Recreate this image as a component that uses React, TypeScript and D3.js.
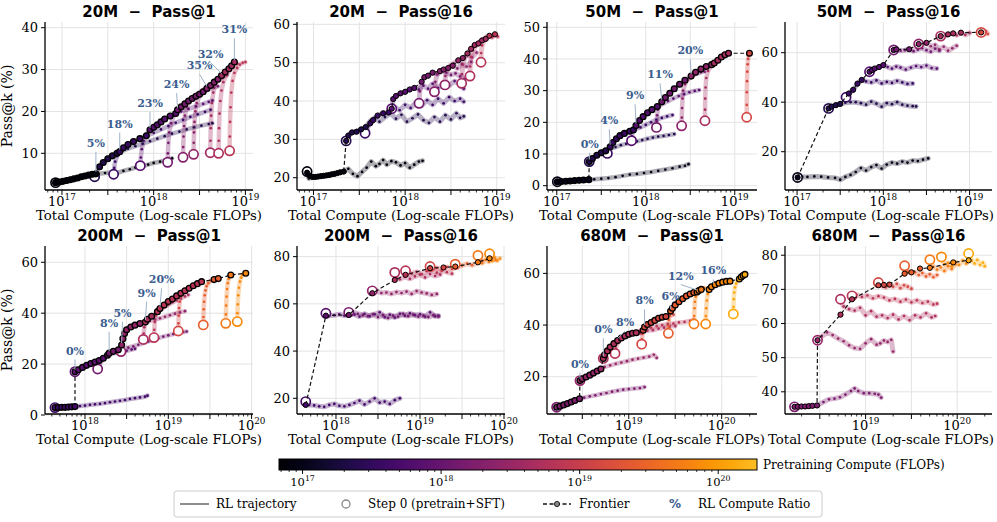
import * as d3 from "d3";

type Pt = [number, number];
type Run = { pre: number; pts: Pt[] };
type FPt = [number, number, number];
type Ratio = { x: number; y: number; tx: number; ty: number; label: string };

// x values are log10(total FLOPs); pts[0] of a run is step 0 (pretrain+SFT)

// ---------- 20M, Pass@1 ----------
const runs20M1: Run[] = [
  { pre: 16.93, pts: [[16.93, 3.0], [16.98, 3.2], [17.04, 3.5], [17.1, 3.8], [17.16, 4.1], [17.22, 4.5], [17.28, 4.8], [17.34, 5.0], [17.4, 5.1], [17.47, 5.3], [17.54, 5.4], [17.6, 5.3], [17.67, 5.8], [17.74, 6.2], [17.8, 6.6], [17.87, 6.9], [17.94, 7.3], [18.0, 7.7], [18.07, 8.0], [18.14, 8.4], [18.2, 8.8]] },
  { pre: 17.356, pts: [[17.356, 4.4], [17.38, 5.6], [17.41, 6.8], [17.45, 7.8], [17.5, 8.7], [17.55, 9.4], [17.6, 10.0], [17.66, 10.6], [17.72, 11.1], [17.8, 11.7], [17.88, 12.3], [17.96, 12.9], [18.04, 13.5], [18.12, 14.1], [18.2, 14.7], [18.28, 15.2], [18.36, 15.7], [18.44, 16.2], [18.52, 16.6], [18.6, 17.0], [18.64, 17.2]] },
  { pre: 17.563, pts: [[17.563, 5.0], [17.57, 6.5], [17.58, 8.0], [17.6, 9.3], [17.63, 10.4], [17.67, 11.3], [17.72, 12.1], [17.78, 12.8], [17.85, 13.5], [17.92, 14.2], [18.0, 14.9], [18.08, 15.7], [18.16, 16.5], [18.24, 17.3], [18.32, 18.0], [18.4, 18.7], [18.48, 19.3], [18.56, 19.9], [18.62, 20.4]] },
  { pre: 17.854, pts: [[17.854, 7.05], [17.86, 9.0], [17.87, 11.0], [17.89, 13.0], [17.92, 14.6], [17.96, 15.6], [18.0, 16.2], [18.04, 16.8], [18.08, 17.5], [18.12, 18.2], [18.18, 18.9], [18.24, 19.5], [18.3, 20.0], [18.38, 20.6], [18.46, 21.2], [18.54, 21.8], [18.6, 22.3], [18.64, 22.6]] },
  { pre: 18.152, pts: [[18.152, 7.85], [18.155, 10.0], [18.16, 12.5], [18.17, 15.0], [18.19, 17.2], [18.22, 19.0], [18.26, 20.4], [18.3, 21.1], [18.34, 21.8], [18.38, 22.5], [18.42, 23.1], [18.46, 23.6], [18.5, 24.1], [18.54, 24.7], [18.6, 25.2], [18.66, 25.7], [18.7, 26.0]] },
  { pre: 18.32, pts: [[18.32, 9.05], [18.322, 11.5], [18.326, 14.0], [18.332, 16.5], [18.34, 19.0], [18.36, 21.0], [18.39, 22.4], [18.43, 23.4], [18.48, 24.3], [18.54, 25.2], [18.58, 25.5], [18.62, 26.2], [18.66, 27.0], [18.7, 27.7], [18.74, 28.1]] },
  { pre: 18.435, pts: [[18.435, 9.77], [18.437, 12.5], [18.44, 15.0], [18.445, 17.5], [18.455, 20.0], [18.47, 22.0], [18.5, 23.6], [18.54, 24.6], [18.59, 25.6], [18.64, 26.5], [18.7, 27.4], [18.76, 28.2], [18.8, 28.7]] },
  { pre: 18.617, pts: [[18.617, 10.15], [18.619, 13.0], [18.622, 16.0], [18.627, 19.0], [18.635, 22.0], [18.65, 24.5], [18.67, 26.3], [18.7, 27.5], [18.74, 28.6], [18.78, 29.4], [18.82, 30.2], [18.85, 30.9], [18.88, 31.8]] },
  { pre: 18.708, pts: [[18.708, 10.0], [18.71, 13.0], [18.713, 16.0], [18.718, 19.5], [18.727, 22.5], [18.74, 25.0], [18.76, 27.0], [18.79, 28.6], [18.83, 29.8], [18.87, 30.8], [18.91, 31.4]] },
  { pre: 18.828, pts: [[18.828, 10.6], [18.83, 14.0], [18.833, 17.5], [18.838, 21.0], [18.846, 24.5], [18.86, 27.3], [18.88, 29.2], [18.91, 30.4], [18.94, 31.2], [18.97, 31.6], [19.0, 31.8]] },
];
const frontier20M1: FPt[] = [
  [16.93, 3.0, 16.93], [16.97, 3.15, 16.93], [17.01, 3.3, 16.93], [17.05, 3.5, 16.93], [17.09, 3.7, 16.93], [17.13, 3.9, 16.93], [17.17, 4.1, 16.93], [17.21, 4.4, 16.93], [17.25, 4.6, 16.93], [17.29, 4.8, 16.93], [17.33, 5.0, 16.93], [17.37, 5.1, 16.93],
  [17.41, 6.8, 17.356], [17.45, 7.8, 17.356], [17.5, 8.7, 17.356], [17.55, 9.4, 17.356], [17.6, 10.0, 17.356],
  [17.63, 10.4, 17.563], [17.67, 11.3, 17.563], [17.72, 12.1, 17.563], [17.78, 12.8, 17.563], [17.85, 13.5, 17.563], [17.92, 14.2, 17.563],
  [17.96, 15.6, 17.854], [18.0, 16.2, 17.854], [18.04, 16.8, 17.854], [18.08, 17.5, 17.854], [18.12, 18.2, 17.854], [18.18, 18.9, 17.854], [18.24, 19.5, 17.854],
  [18.26, 20.4, 18.152], [18.3, 21.1, 18.152], [18.34, 21.8, 18.152], [18.38, 22.5, 18.152], [18.42, 23.1, 18.152], [18.46, 23.6, 18.152], [18.5, 24.1, 18.152], [18.54, 24.7, 18.152],
  [18.58, 25.5, 18.32], [18.62, 26.2, 18.32], [18.66, 27.0, 18.32], [18.7, 27.7, 18.32],
  [18.74, 28.6, 18.617], [18.78, 29.4, 18.617], [18.82, 30.2, 18.617], [18.85, 30.9, 18.617], [18.88, 31.8, 18.617],
];
const ratios20M1: Ratio[] = [
  { x: 17.37, y: 5.1, tx: 17.37, ty: 11.8, label: "5%" },
  { x: 17.63, y: 10.4, tx: 17.63, ty: 16.4, label: "18%" },
  { x: 17.96, y: 15.6, tx: 17.96, ty: 21.3, label: "23%" },
  { x: 18.26, y: 20.4, tx: 18.25, ty: 25.8, label: "24%" },
  { x: 18.58, y: 25.5, tx: 18.5, ty: 30.3, label: "35%" },
  { x: 18.74, y: 28.6, tx: 18.62, ty: 33.1, label: "32%" },
  { x: 18.88, y: 31.8, tx: 18.88, ty: 38.9, label: "31%" },
];

// ---------- 20M, Pass@16 ----------
const runs20M16: Run[] = [
  { pre: 16.93, pts: [[16.93, 21.6], [16.95, 19.8], [16.98, 20.0], [17.02, 20.2], [17.06, 20.3], [17.1, 20.4], [17.14, 20.5], [17.18, 20.7], [17.22, 20.9], [17.26, 21.2], [17.3, 21.4], [17.34, 21.7], [17.38, 22.3], [17.43, 21.0], [17.48, 20.4], [17.53, 21.5], [17.58, 22.6], [17.63, 24.2], [17.68, 23.0], [17.72, 23.6], [17.76, 24.6], [17.8, 23.4], [17.85, 24.3], [17.9, 24.0], [17.95, 23.2], [18.0, 23.8], [18.05, 22.6], [18.1, 23.4], [18.15, 24.2], [18.19, 24.4]] },
  { pre: 17.356, pts: [[17.356, 29.6], [17.38, 31.0], [17.42, 31.8], [17.47, 32.0], [17.52, 32.6], [17.57, 33.2], [17.62, 34.8], [17.67, 35.6], [17.72, 34.6], [17.78, 35.8], [17.84, 36.8], [17.9, 35.4], [17.96, 36.4], [18.02, 34.6], [18.08, 35.5], [18.14, 36.5], [18.2, 35.0], [18.26, 34.3], [18.32, 35.8], [18.38, 34.6], [18.44, 36.3], [18.5, 35.2], [18.56, 36.8], [18.6, 35.6], [18.64, 36.0]] },
  { pre: 17.563, pts: [[17.563, 31.6], [17.6, 33.5], [17.65, 35.0], [17.7, 36.2], [17.76, 36.8], [17.82, 37.0], [17.88, 38.5], [17.94, 37.6], [18.0, 39.0], [18.06, 38.2], [18.12, 39.6], [18.18, 38.8], [18.24, 40.2], [18.3, 39.0], [18.36, 40.6], [18.42, 39.4], [18.48, 41.0], [18.54, 40.0], [18.6, 40.6], [18.64, 39.8]] },
  { pre: 17.854, pts: [[17.854, 38.0], [17.87, 40.5], [17.9, 41.3], [17.95, 42.0], [18.0, 42.4], [18.05, 43.0], [18.1, 43.4], [18.15, 43.0], [18.2, 44.0], [18.25, 43.2], [18.3, 44.5], [18.36, 43.4], [18.42, 44.8], [18.48, 44.0], [18.54, 45.2], [18.6, 44.2], [18.64, 43.2]] },
  { pre: 18.152, pts: [[18.152, 39.4], [18.16, 42.5], [18.18, 45.0], [18.21, 46.2], [18.25, 46.6], [18.3, 47.4], [18.35, 47.0], [18.4, 47.8], [18.45, 47.4], [18.5, 46.8], [18.55, 47.2], [18.6, 46.4], [18.65, 45.8], [18.7, 46.6]] },
  { pre: 18.32, pts: [[18.32, 42.4], [18.33, 45.0], [18.35, 47.0], [18.38, 47.8], [18.42, 48.2], [18.47, 48.6], [18.52, 49.2], [18.57, 48.5], [18.62, 49.6], [18.67, 49.0], [18.72, 50.2]] },
  { pre: 18.435, pts: [[18.435, 44.2], [18.44, 46.5], [18.46, 48.3], [18.49, 49.2], [18.53, 49.8], [18.58, 50.6], [18.63, 51.2], [18.68, 52.0], [18.73, 51.4], [18.78, 52.6]] },
  { pre: 18.617, pts: [[18.617, 44.6], [18.62, 47.0], [18.63, 49.5], [18.65, 51.2], [18.68, 52.4], [18.72, 53.6], [18.76, 54.6], [18.8, 55.0], [18.84, 55.8], [18.88, 56.2]] },
  { pre: 18.708, pts: [[18.708, 46.5], [18.71, 49.0], [18.72, 51.5], [18.74, 53.2], [18.77, 54.4], [18.8, 55.2], [18.84, 55.8], [18.88, 56.6], [18.92, 57.0]] },
  { pre: 18.828, pts: [[18.828, 50.1], [18.83, 52.5], [18.84, 54.5], [18.86, 55.6], [18.89, 56.4], [18.92, 57.0], [18.95, 56.6], [18.98, 57.4], [19.01, 56.8]] },
];
const frontier20M16: FPt[] = [
  [16.93, 21.3, 16.93], [16.96, 20.5, 16.93], [16.99, 20.2, 16.93], [17.02, 20.2, 16.93], [17.05, 20.3, 16.93], [17.08, 20.4, 16.93], [17.11, 20.5, 16.93], [17.14, 20.6, 16.93], [17.17, 20.7, 16.93], [17.2, 20.9, 16.93], [17.23, 21.0, 16.93], [17.26, 21.2, 16.93], [17.29, 21.4, 16.93], [17.33, 21.6, 16.93],
  [17.356, 29.6, 17.356], [17.38, 31.0, 17.356], [17.42, 31.8, 17.356], [17.47, 32.0, 17.356], [17.52, 32.6, 17.356], [17.57, 33.2, 17.356],
  [17.62, 34.2, 17.563], [17.65, 35.0, 17.563], [17.7, 36.2, 17.563], [17.76, 36.8, 17.563], [17.82, 37.0, 17.563],
  [17.854, 38.0, 17.854], [17.87, 40.5, 17.854], [17.9, 41.3, 17.854], [17.95, 42.0, 17.854], [18.0, 42.4, 17.854], [18.05, 43.0, 17.854], [18.1, 43.4, 17.854],
  [18.18, 45.0, 18.152], [18.21, 46.2, 18.152], [18.25, 46.6, 18.152], [18.3, 47.4, 18.152],
  [18.38, 47.8, 18.32], [18.42, 48.2, 18.32], [18.47, 48.6, 18.32], [18.52, 49.2, 18.32],
  [18.58, 50.6, 18.435], [18.63, 51.2, 18.435],
  [18.68, 52.4, 18.617], [18.72, 53.6, 18.617], [18.76, 54.6, 18.617], [18.8, 55.0, 18.617], [18.84, 55.8, 18.617], [18.88, 56.2, 18.617],
  [18.92, 57.0, 18.828], [18.98, 57.4, 18.828],
];

// ---------- 50M, Pass@1 ----------
const runs50M1: Run[] = [
  { pre: 17.006, pts: [[17.006, 1.26], [17.05, 1.3], [17.1, 1.4], [17.15, 1.5], [17.2, 1.6], [17.25, 1.7], [17.3, 1.8], [17.36, 1.9], [17.42, 2.0], [17.5, 2.2], [17.58, 2.4], [17.66, 2.7], [17.74, 3.1], [17.82, 3.5], [17.9, 3.7], [17.98, 4.0], [18.06, 4.3], [18.14, 4.7], [18.22, 5.1], [18.3, 5.5], [18.38, 6.0], [18.44, 6.3], [18.48, 6.8]] },
  { pre: 17.365, pts: [[17.365, 7.6], [17.4, 8.6], [17.45, 9.6], [17.5, 10.4], [17.55, 11.0], [17.6, 11.6], [17.66, 12.2], [17.72, 12.8], [17.78, 13.2], [17.84, 13.7], [17.9, 14.0], [17.96, 14.4], [18.02, 14.8], [18.08, 15.2], [18.14, 15.5], [18.2, 15.7], [18.26, 16.0], [18.32, 16.3]] },
  { pre: 17.568, pts: [[17.568, 10.2], [17.58, 11.2], [17.6, 12.3], [17.63, 13.6], [17.67, 14.8], [17.71, 15.8], [17.76, 16.5], [17.82, 17.2], [17.88, 17.8], [17.94, 18.4], [18.0, 19.2], [18.06, 20.0], [18.12, 20.8], [18.18, 21.4], [18.24, 21.9], [18.3, 22.3]] },
  { pre: 17.84, pts: [[17.84, 14.2], [17.845, 15.6], [17.855, 17.0], [17.87, 18.2], [17.89, 19.0], [17.93, 20.6], [17.97, 21.8], [18.02, 23.0], [18.07, 24.0], [18.13, 25.0], [18.19, 25.8], [18.25, 26.7], [18.31, 27.5], [18.37, 28.3], [18.43, 28.9], [18.49, 29.5], [18.55, 29.9], [18.6, 30.2]] },
  { pre: 18.12, pts: [[18.12, 18.4], [18.123, 20.2], [18.128, 22.2], [18.135, 24.0], [18.15, 25.3], [18.18, 26.5], [18.22, 27.8], [18.27, 29.2], [18.32, 30.6], [18.38, 32.0], [18.44, 33.3], [18.5, 34.4], [18.56, 35.2], [18.62, 35.8], [18.66, 36.0]] },
  { pre: 18.403, pts: [[18.403, 18.9], [18.405, 21.5], [18.408, 24.5], [18.413, 27.5], [18.42, 30.0], [18.44, 32.0], [18.47, 33.4], [18.51, 34.6], [18.56, 35.8], [18.62, 36.8], [18.68, 37.6], [18.74, 38.2], [18.78, 38.6]] },
  { pre: 18.665, pts: [[18.665, 20.5], [18.666, 24.0], [18.668, 27.5], [18.672, 31.0], [18.68, 34.0], [18.7, 36.2], [18.73, 37.6], [18.77, 38.7], [18.81, 39.6], [18.85, 40.6], [18.89, 41.3], [18.93, 41.8]] },
  { pre: 19.134, pts: [[19.134, 21.6], [19.135, 25.5], [19.136, 29.5], [19.138, 33.0], [19.141, 36.0], [19.145, 38.3], [19.15, 40.0], [19.157, 41.0], [19.165, 41.8]] },
];
const frontier50M1: FPt[] = [
  [17.006, 1.26, 17.006], [17.05, 1.3, 17.006], [17.1, 1.4, 17.006], [17.15, 1.5, 17.006], [17.2, 1.6, 17.006], [17.25, 1.7, 17.006], [17.3, 1.8, 17.006], [17.36, 1.9, 17.006],
  [17.365, 7.6, 17.365], [17.4, 8.6, 17.365], [17.45, 9.6, 17.365], [17.5, 10.4, 17.365], [17.55, 11.0, 17.365],
  [17.6, 12.3, 17.568], [17.63, 13.6, 17.568], [17.67, 14.8, 17.568], [17.71, 15.8, 17.568], [17.76, 16.5, 17.568], [17.82, 17.2, 17.568], [17.86, 17.6, 17.568],
  [17.89, 19.0, 17.84], [17.93, 20.6, 17.84], [17.97, 21.8, 17.84], [18.02, 23.0, 17.84], [18.07, 24.0, 17.84], [18.13, 25.0, 17.84],
  [18.18, 26.5, 18.12], [18.22, 27.8, 18.12], [18.27, 29.2, 18.12], [18.32, 30.6, 18.12], [18.38, 32.0, 18.12], [18.44, 33.3, 18.12],
  [18.51, 34.6, 18.403], [18.56, 35.8, 18.403], [18.62, 36.8, 18.403], [18.68, 37.6, 18.403], [18.74, 38.2, 18.403],
  [18.77, 38.7, 18.665], [18.81, 39.6, 18.665], [18.85, 40.6, 18.665], [18.89, 41.3, 18.665], [18.93, 41.8, 18.665],
  [19.165, 41.8, 19.134],
];
const ratios50M1: Ratio[] = [
  { x: 17.365, y: 7.6, tx: 17.37, ty: 12.3, label: "0%" },
  { x: 17.6, y: 12.3, tx: 17.59, ty: 19.7, label: "4%" },
  { x: 17.89, y: 19.0, tx: 17.88, ty: 27.6, label: "9%" },
  { x: 18.18, y: 26.5, tx: 18.16, ty: 34.2, label: "11%" },
  { x: 18.51, y: 34.6, tx: 18.5, ty: 41.8, label: "20%" },
];

// ---------- 50M, Pass@16 ----------
const runs50M16: Run[] = [
  { pre: 17.006, pts: [[17.006, 9.6], [17.06, 9.8], [17.12, 9.8], [17.2, 10.0], [17.28, 9.9], [17.36, 9.6], [17.44, 9.4], [17.5, 8.7], [17.56, 9.8], [17.62, 10.6], [17.68, 11.8], [17.74, 13.4], [17.8, 12.4], [17.86, 13.8], [17.92, 14.6], [17.98, 13.2], [18.04, 14.8], [18.1, 15.6], [18.16, 15.2], [18.22, 16.0], [18.28, 15.6], [18.34, 16.4], [18.4, 16.2], [18.46, 16.8], [18.52, 17.3]] },
  { pre: 17.365, pts: [[17.365, 37.5], [17.4, 38.2], [17.45, 38.8], [17.5, 39.3], [17.56, 39.8], [17.62, 40.0], [17.68, 40.0], [17.74, 39.6], [17.8, 39.0], [17.86, 40.2], [17.92, 39.4], [17.98, 38.2], [18.04, 39.6], [18.1, 39.2], [18.16, 40.0], [18.22, 39.0], [18.28, 38.6], [18.34, 38.4], [18.38, 38.3]] },
  { pre: 17.568, pts: [[17.568, 42.0], [17.6, 43.5], [17.65, 45.0], [17.7, 47.5], [17.75, 49.0], [17.8, 48.4], [17.86, 48.0], [17.92, 48.8], [17.98, 47.6], [18.04, 48.2], [18.1, 47.8], [18.16, 48.6], [18.22, 48.0], [18.28, 47.4], [18.34, 47.6]] },
  { pre: 17.84, pts: [[17.84, 52.3], [17.87, 53.0], [17.9, 53.6], [17.95, 54.2], [18.0, 55.0], [18.05, 54.2], [18.1, 53.6], [18.15, 54.4], [18.2, 54.0], [18.26, 53.2], [18.32, 54.0], [18.38, 54.6], [18.44, 54.2], [18.5, 54.8], [18.56, 53.8], [18.62, 53.6]] },
  { pre: 18.12, pts: [[18.12, 61.1], [18.15, 61.3], [18.2, 60.8], [18.25, 61.0], [18.3, 61.4], [18.35, 60.6], [18.4, 61.2], [18.45, 61.8], [18.5, 61.0], [18.55, 60.4], [18.6, 61.6], [18.65, 60.8]] },
  { pre: 18.41, pts: [[18.41, 63.5], [18.45, 63.2], [18.5, 64.0], [18.55, 62.6], [18.6, 63.2], [18.65, 61.4], [18.7, 62.4], [18.75, 60.8], [18.8, 61.8], [18.85, 62.8]] },
  { pre: 18.665, pts: [[18.665, 66.7], [18.7, 66.4], [18.75, 67.4], [18.81, 67.8], [18.85, 67.0], [18.9, 68.1], [18.95, 67.2], [19.0, 68.0]] },
  { pre: 19.134, pts: [[19.134, 68.2], [19.15, 69.0], [19.17, 67.5], [19.19, 68.6], [19.21, 67.6]] },
];
const frontier50M16: FPt[] = [
  [17.006, 9.6, 17.006],
  [17.365, 37.5, 17.365], [17.4, 38.2, 17.365], [17.45, 38.8, 17.365], [17.5, 39.3, 17.365],
  [17.6, 43.5, 17.568], [17.65, 45.0, 17.568], [17.7, 47.5, 17.568], [17.75, 49.0, 17.568],
  [17.84, 52.3, 17.84], [17.87, 53.0, 17.84], [17.9, 53.6, 17.84], [17.95, 54.2, 17.84], [18.0, 55.0, 17.84],
  [18.12, 61.1, 18.12], [18.15, 61.3, 18.12], [18.3, 61.4, 18.12],
  [18.41, 63.5, 18.41], [18.5, 64.0, 18.41],
  [18.665, 66.7, 18.665], [18.75, 67.4, 18.665], [18.81, 67.8, 18.665], [18.9, 68.1, 18.665],
  [19.134, 68.2, 19.134],
];

// ---------- 200M, Pass@1 ----------
const runs200M1: Run[] = [
  { pre: 17.64, pts: [[17.64, 2.9], [17.68, 2.9], [17.72, 3.0], [17.76, 3.0], [17.8, 3.1], [17.84, 3.2], [17.88, 3.3], [17.94, 3.5], [18.0, 3.7], [18.06, 4.0], [18.12, 4.2], [18.18, 4.4], [18.24, 4.7], [18.3, 5.0], [18.36, 5.3], [18.42, 5.6], [18.48, 5.9], [18.54, 6.3], [18.6, 6.6], [18.66, 6.9], [18.72, 7.2], [18.75, 7.6]] },
  { pre: 17.88, pts: [[17.88, 17.0], [17.92, 17.8], [17.97, 18.7], [18.02, 19.5], [18.07, 20.2], [18.12, 20.8], [18.17, 21.4], [18.22, 22.3], [18.27, 23.5], [18.32, 24.0], [18.38, 24.4], [18.44, 24.8], [18.5, 25.2], [18.56, 25.7], [18.6, 26.0]] },
  { pre: 18.152, pts: [[18.152, 18.08], [18.17, 19.5], [18.2, 21.2], [18.24, 22.8], [18.29, 24.3], [18.34, 25.0], [18.4, 25.6], [18.46, 26.0], [18.52, 26.5], [18.58, 27.0], [18.64, 27.6], [18.7, 28.2], [18.76, 28.9], [18.82, 29.6], [18.88, 30.2], [18.94, 30.8], [19.0, 31.3], [19.06, 31.8], [19.12, 32.3], [19.18, 32.6], [19.22, 32.8]] },
  { pre: 18.432, pts: [[18.432, 24.9], [18.44, 27.5], [18.455, 30.0], [18.475, 32.0], [18.5, 33.5], [18.55, 34.6], [18.6, 35.3], [18.66, 35.9], [18.72, 36.4], [18.78, 37.0], [18.84, 37.5], [18.9, 38.0], [18.96, 38.6], [19.02, 39.2], [19.08, 39.8], [19.14, 40.3], [19.2, 40.8]] },
  { pre: 18.7, pts: [[18.7, 29.7], [18.705, 32.0], [18.712, 34.5], [18.725, 36.5], [18.75, 37.6], [18.8, 38.8], [18.85, 40.0], [18.9, 41.2], [18.95, 42.3], [19.0, 43.3], [19.05, 44.2], [19.1, 45.0], [19.15, 45.8], [19.2, 46.6], [19.24, 47.2]] },
  { pre: 18.828, pts: [[18.828, 30.4], [18.832, 33.5], [18.838, 36.5], [18.848, 39.0], [18.87, 40.6], [18.9, 41.8], [18.95, 43.2], [19.0, 44.6], [19.05, 45.6], [19.1, 46.8], [19.15, 47.8], [19.2, 48.8], [19.25, 49.8], [19.3, 50.8], [19.35, 51.6], [19.4, 52.4]] },
  { pre: 19.12, pts: [[19.12, 33.0], [19.122, 36.0], [19.125, 39.0], [19.13, 42.0], [19.137, 44.5], [19.148, 46.4], [19.16, 47.6], [19.18, 48.6], [19.2, 49.4]] },
  { pre: 19.42, pts: [[19.42, 35.4], [19.422, 38.5], [19.425, 41.5], [19.43, 44.5], [19.437, 47.0], [19.447, 49.0], [19.46, 50.6], [19.48, 51.8], [19.51, 52.6], [19.55, 53.2], [19.6, 53.6]] },
  { pre: 19.69, pts: [[19.69, 36.0], [19.692, 39.5], [19.695, 43.0], [19.7, 46.5], [19.706, 49.5], [19.714, 51.8], [19.724, 53.4], [19.736, 54.4], [19.75, 55.0]] },
  { pre: 19.828, pts: [[19.828, 36.7], [19.83, 40.0], [19.834, 43.5], [19.84, 47.0], [19.848, 50.0], [19.86, 52.4], [19.875, 54.0], [19.89, 55.0], [19.91, 55.5], [19.93, 55.7]] },
];
const frontier200M1: FPt[] = [
  [17.64, 2.9, 17.64], [17.68, 2.9, 17.64], [17.72, 3.0, 17.64], [17.76, 3.0, 17.64], [17.8, 3.1, 17.64], [17.84, 3.2, 17.64], [17.88, 3.3, 17.64],
  [17.88, 17.0, 17.88], [17.92, 17.8, 17.88], [17.97, 18.7, 17.88], [18.02, 19.5, 17.88], [18.07, 20.2, 17.88], [18.12, 20.8, 17.88], [18.17, 21.4, 17.88], [18.22, 22.3, 17.88], [18.27, 23.5, 17.88],
  [18.29, 24.3, 18.152], [18.34, 25.0, 18.152], [18.4, 25.6, 18.152],
  [18.44, 27.5, 18.432], [18.455, 30.0, 18.432], [18.475, 32.0, 18.432], [18.5, 33.5, 18.432], [18.55, 34.6, 18.432], [18.6, 35.3, 18.432], [18.66, 35.9, 18.432],
  [18.725, 36.5, 18.7], [18.75, 37.6, 18.7], [18.8, 38.8, 18.7],
  [18.87, 40.6, 18.828], [18.9, 41.8, 18.828], [18.95, 43.2, 18.828], [19.0, 44.6, 18.828], [19.05, 45.6, 18.828], [19.1, 46.8, 18.828], [19.15, 47.8, 18.828], [19.2, 48.8, 18.828], [19.25, 49.8, 18.828], [19.3, 50.8, 18.828], [19.35, 51.6, 18.828], [19.4, 52.4, 18.828],
  [19.55, 53.2, 19.42], [19.6, 53.6, 19.42],
  [19.75, 55.0, 19.69],
  [19.93, 55.7, 19.828],
];
const ratios200M1: Ratio[] = [
  { x: 17.88, y: 17.0, tx: 17.88, ty: 24.2, label: "0%" },
  { x: 18.29, y: 24.3, tx: 18.29, ty: 35.1, label: "8%" },
  { x: 18.44, y: 27.5, tx: 18.45, ty: 39.0, label: "5%" },
  { x: 18.725, y: 36.5, tx: 18.74, ty: 46.9, label: "9%" },
  { x: 18.9, y: 41.8, tx: 18.92, ty: 52.1, label: "20%" },
];

// ---------- 200M, Pass@16 ----------
const runs200M16: Run[] = [
  { pre: 17.64, pts: [[17.64, 18.6], [17.68, 17.2], [17.74, 17.0], [17.8, 16.6], [17.86, 16.4], [17.92, 17.2], [17.98, 17.6], [18.04, 16.8], [18.1, 16.6], [18.16, 17.2], [18.22, 18.0], [18.28, 19.0], [18.34, 17.4], [18.4, 18.6], [18.46, 20.0], [18.52, 18.2], [18.58, 18.6], [18.64, 17.6], [18.7, 19.2], [18.76, 20.0]] },
  { pre: 17.88, pts: [[17.88, 56.0], [17.92, 55.0], [17.98, 55.2], [18.04, 55.6], [18.1, 55.0], [18.16, 56.2], [18.22, 55.4], [18.28, 54.6], [18.34, 55.8], [18.4, 54.8], [18.46, 55.6], [18.52, 56.4], [18.58, 54.4], [18.64, 55.4], [18.7, 54.2], [18.76, 55.8], [18.82, 55.0], [18.88, 56.0], [18.94, 55.2], [19.0, 55.6], [19.06, 54.6], [19.12, 56.4], [19.18, 54.8], [19.22, 55.0]] },
  { pre: 18.152, pts: [[18.152, 56.4], [18.2, 56.6], [18.26, 55.8], [18.32, 55.2], [18.38, 54.8], [18.44, 55.6], [18.5, 54.4], [18.56, 55.2], [18.62, 54.0], [18.68, 55.0], [18.74, 54.6], [18.8, 55.8], [18.86, 54.8], [18.92, 55.4], [18.98, 54.6], [19.04, 55.0], [19.1, 54.4], [19.16, 55.2], [19.22, 54.6]] },
  { pre: 18.432, pts: [[18.432, 65.5], [18.48, 65.6], [18.54, 64.6], [18.6, 64.8], [18.66, 64.2], [18.72, 65.0], [18.78, 64.6], [18.84, 65.2], [18.9, 64.2], [18.96, 65.4], [19.02, 64.8], [19.08, 64.4], [19.14, 63.8], [19.2, 64.2]] },
  { pre: 18.7, pts: [[18.7, 73.3], [18.72, 71.0], [18.76, 70.4], [18.82, 71.4], [18.88, 70.6], [18.94, 71.6], [19.0, 72.4], [19.06, 71.2], [19.12, 72.6], [19.18, 71.8], [19.24, 72.4]] },
  { pre: 18.828, pts: [[18.828, 74.0], [18.85, 72.4], [18.9, 72.8], [18.96, 73.6], [19.02, 72.6], [19.08, 73.8], [19.14, 74.4], [19.2, 73.2], [19.26, 74.0], [19.32, 73.4], [19.38, 72.8]] },
  { pre: 19.12, pts: [[19.12, 75.8], [19.15, 74.6], [19.2, 75.2], [19.26, 74.4], [19.32, 75.6], [19.38, 74.8], [19.44, 75.4]] },
  { pre: 19.42, pts: [[19.42, 76.8], [19.45, 75.6], [19.5, 76.2], [19.56, 77.0], [19.62, 76.4], [19.68, 77.4], [19.74, 78.2]] },
  { pre: 19.69, pts: [[19.69, 80.5], [19.7, 78.4], [19.74, 77.2], [19.78, 78.6], [19.82, 77.8], [19.86, 79.2], [19.9, 78.6]] },
  { pre: 19.828, pts: [[19.828, 81.2], [19.84, 79.0], [19.86, 78.2], [19.89, 79.6], [19.92, 78.4], [19.95, 79.2]] },
];
const frontier200M16: FPt[] = [
  [17.64, 17.2, 17.64], [17.88, 55.0, 17.88], [18.152, 55.3, 18.152], [18.432, 64.5, 18.432], [18.7, 70.1, 18.7], [18.828, 72.3, 18.828],
  [19.12, 75.1, 19.12], [19.28, 75.4, 19.12], [19.42, 75.8, 19.42], [19.69, 77.6, 19.69], [19.828, 79.3, 19.828],
];

// ---------- 680M, Pass@1 ----------
const runs680M1: Run[] = [
  { pre: 18.224, pts: [[18.224, 8.2], [18.26, 8.6], [18.3, 9.1], [18.34, 9.6], [18.38, 10.2], [18.42, 10.8], [18.47, 11.5], [18.52, 11.9], [18.58, 12.4], [18.64, 12.8], [18.7, 13.3], [18.76, 13.7], [18.82, 14.2], [18.88, 14.6], [18.94, 15.0], [19.0, 15.2], [19.06, 15.4], [19.12, 15.6], [19.17, 16.0]] },
  { pre: 18.475, pts: [[18.475, 18.5], [18.5, 19.2], [18.54, 19.9], [18.58, 20.6], [18.62, 21.4], [18.66, 22.2], [18.7, 23.0], [18.74, 23.8], [18.8, 24.4], [18.86, 25.0], [18.92, 25.5], [18.98, 26.0], [19.04, 26.6], [19.1, 27.0], [19.16, 27.4], [19.22, 27.8], [19.27, 28.5], [19.3, 27.3]] },
  { pre: 18.726, pts: [[18.726, 27.1], [18.74, 28.5], [18.77, 30.0], [18.8, 31.5], [18.84, 32.8], [18.88, 34.0], [18.92, 35.0], [18.96, 35.8], [19.0, 36.4], [19.04, 36.8], [19.08, 37.0], [19.12, 36.8], [19.16, 37.6], [19.2, 37.8], [19.26, 38.0], [19.32, 38.6], [19.38, 39.0], [19.44, 39.4], [19.5, 39.6]] },
  { pre: 18.852, pts: [[18.852, 29.0], [18.86, 31.0], [18.88, 33.0], [18.91, 34.5], [18.95, 35.5], [19.0, 36.4], [19.06, 37.2], [19.12, 37.8], [19.18, 38.4], [19.24, 39.0], [19.3, 39.6], [19.36, 40.0], [19.42, 40.4], [19.48, 40.6], [19.54, 41.0], [19.6, 41.2], [19.66, 41.6], [19.7, 42.0]] },
  { pre: 19.139, pts: [[19.139, 32.6], [19.142, 34.5], [19.147, 36.5], [19.155, 38.0], [19.17, 39.2], [19.2, 40.2], [19.24, 41.0], [19.28, 41.8], [19.32, 42.6], [19.36, 43.0], [19.4, 43.3], [19.44, 43.6], [19.48, 44.0]] },
  { pre: 19.426, pts: [[19.426, 36.8], [19.428, 39.5], [19.432, 42.0], [19.44, 44.0], [19.45, 45.4], [19.47, 46.5], [19.5, 47.8], [19.54, 49.0], [19.58, 50.2], [19.62, 51.2], [19.66, 52.0], [19.7, 52.6]] },
  { pre: 19.702, pts: [[19.702, 40.4], [19.704, 43.5], [19.707, 46.5], [19.712, 49.0], [19.72, 51.0], [19.735, 52.8], [19.755, 53.4], [19.78, 53.8], [19.81, 54.4]] },
  { pre: 19.828, pts: [[19.828, 40.4], [19.83, 43.5], [19.834, 46.5], [19.84, 49.5], [19.85, 52.0], [19.865, 53.8], [19.89, 54.8], [19.93, 55.6], [19.97, 56.2], [20.01, 56.6], [20.05, 56.9], [20.09, 57.0]] },
  { pre: 20.125, pts: [[20.125, 44.3], [20.127, 47.0], [20.13, 50.0], [20.135, 52.6], [20.143, 54.6], [20.155, 56.0], [20.17, 57.0], [20.19, 57.8], [20.21, 58.6], [20.23, 59.2], [20.25, 59.6]] },
];
const frontier680M1: FPt[] = [
  [18.224, 8.2, 18.224], [18.26, 8.6, 18.224], [18.3, 9.1, 18.224], [18.34, 9.6, 18.224], [18.38, 10.2, 18.224], [18.42, 10.8, 18.224], [18.47, 11.5, 18.224],
  [18.475, 18.5, 18.475], [18.5, 19.2, 18.475], [18.54, 19.9, 18.475], [18.58, 20.6, 18.475], [18.62, 21.4, 18.475], [18.66, 22.2, 18.475], [18.7, 23.0, 18.475],
  [18.726, 27.1, 18.726], [18.74, 28.5, 18.726], [18.77, 30.0, 18.726], [18.8, 31.5, 18.726], [18.84, 32.8, 18.726], [18.88, 34.0, 18.726], [18.92, 35.0, 18.726], [18.96, 35.8, 18.726], [19.0, 36.4, 18.726], [19.04, 36.8, 18.726], [19.08, 37.0, 18.726],
  [19.155, 38.0, 19.139], [19.17, 39.2, 19.139], [19.2, 40.2, 19.139], [19.24, 41.0, 19.139], [19.28, 41.8, 19.139], [19.32, 42.6, 19.139], [19.36, 43.0, 19.139], [19.4, 43.3, 19.139],
  [19.45, 45.4, 19.426], [19.47, 46.5, 19.426], [19.5, 47.8, 19.426], [19.54, 49.0, 19.426], [19.58, 50.2, 19.426], [19.62, 51.2, 19.426], [19.66, 52.0, 19.426], [19.7, 52.6, 19.426],
  [19.735, 52.8, 19.702], [19.755, 53.4, 19.702], [19.78, 53.8, 19.702],
  [19.865, 53.8, 19.828], [19.89, 54.8, 19.828], [19.93, 55.6, 19.828], [19.97, 56.2, 19.828], [20.01, 56.6, 19.828], [20.05, 56.9, 19.828], [20.09, 57.0, 19.828],
  [20.19, 57.8, 20.125], [20.21, 58.6, 20.125], [20.23, 59.2, 20.125], [20.25, 59.6, 20.125],
];
const ratios680M1: Ratio[] = [
  { x: 18.475, y: 18.5, tx: 18.475, ty: 23.9, label: "0%" },
  { x: 18.726, y: 27.1, tx: 18.726, ty: 37.2, label: "0%" },
  { x: 18.88, y: 34.0, tx: 18.96, ty: 40.0, label: "8%" },
  { x: 19.17, y: 39.2, tx: 19.17, ty: 48.4, label: "8%" },
  { x: 19.45, y: 45.4, tx: 19.45, ty: 50.0, label: "6%" },
  { x: 19.735, y: 52.8, tx: 19.56, ty: 58.0, label: "12%" },
  { x: 19.91, y: 55.3, tx: 19.91, ty: 60.0, label: "16%" },
];

// ---------- 680M, Pass@16 ----------
const runs680M16: Run[] = [
  { pre: 18.224, pts: [[18.224, 35.6], [18.26, 35.6], [18.3, 35.7], [18.34, 35.7], [18.38, 35.8], [18.42, 35.9], [18.47, 36.0], [18.54, 37.0], [18.6, 37.8], [18.66, 38.0], [18.72, 38.4], [18.78, 39.2], [18.84, 40.2], [18.88, 41.0], [18.92, 40.2], [18.98, 39.6], [19.04, 39.6], [19.1, 39.4], [19.14, 39.2], [19.17, 38.3]] },
  { pre: 18.475, pts: [[18.475, 55.1], [18.52, 56.2], [18.58, 57.4], [18.64, 56.6], [18.7, 55.6], [18.76, 54.8], [18.82, 53.6], [18.88, 52.8], [18.94, 52.6], [19.0, 54.2], [19.06, 55.4], [19.12, 53.8], [19.16, 54.2], [19.2, 55.0], [19.24, 54.6], [19.28, 55.2], [19.3, 51.8]] },
  { pre: 18.726, pts: [[18.726, 67.1], [18.76, 65.0], [18.82, 64.2], [18.88, 63.8], [18.94, 64.6], [19.0, 62.4], [19.06, 63.6], [19.12, 62.0], [19.18, 62.4], [19.24, 61.6], [19.3, 62.6], [19.36, 61.2], [19.42, 62.2], [19.48, 61.0], [19.54, 62.4], [19.6, 61.8], [19.66, 63.0], [19.72, 61.8], [19.76, 62.2]] },
  { pre: 18.852, pts: [[18.852, 68.1], [18.9, 68.4], [18.96, 67.8], [19.02, 68.2], [19.08, 67.4], [19.14, 68.0], [19.2, 67.6], [19.26, 66.8], [19.32, 67.2], [19.38, 66.4], [19.44, 67.0], [19.5, 66.2], [19.56, 66.8], [19.62, 66.0], [19.68, 66.4], [19.74, 65.6], [19.78, 65.8]] },
  { pre: 19.139, pts: [[19.139, 72.0], [19.18, 71.0], [19.22, 70.6], [19.26, 71.2], [19.3, 70.8], [19.34, 71.6], [19.38, 70.4], [19.42, 71.2], [19.46, 70.8], [19.5, 70.2]] },
  { pre: 19.426, pts: [[19.426, 76.9], [19.46, 75.2], [19.5, 74.6], [19.54, 75.0], [19.58, 74.2], [19.62, 74.8], [19.66, 73.8], [19.7, 74.4], [19.74, 73.6], [19.78, 74.2]] },
  { pre: 19.702, pts: [[19.702, 78.7], [19.74, 76.6], [19.78, 75.8], [19.82, 76.4], [19.86, 75.4], [19.9, 76.8], [19.94, 76.0], [19.98, 77.4]] },
  { pre: 19.828, pts: [[19.828, 79.5], [19.86, 77.4], [19.9, 77.8], [19.94, 76.8], [19.98, 78.0], [20.02, 77.2], [20.06, 78.4], [20.1, 77.6]] },
  { pre: 20.125, pts: [[20.125, 80.5], [20.16, 78.4], [20.19, 77.6], [20.22, 78.6], [20.25, 77.2], [20.28, 77.8], [20.3, 76.8]] },
];
const frontier680M16: FPt[] = [
  [18.224, 35.6, 18.224], [18.26, 35.6, 18.224], [18.3, 35.7, 18.224], [18.34, 35.7, 18.224], [18.38, 35.8, 18.224], [18.42, 35.9, 18.224], [18.47, 36.0, 18.224],
  [18.475, 55.1, 18.475], [18.726, 62.6, 18.726], [18.852, 67.1, 18.852],
  [19.139, 71.2, 19.139], [19.2, 71.3, 19.139], [19.26, 71.4, 19.139],
  [19.426, 74.6, 19.426], [19.5, 75.0, 19.426], [19.594, 76.1, 19.426],
  [19.702, 76.3, 19.702], [19.957, 77.9, 19.828], [20.125, 78.5, 20.125],
];

const titles = ["20M  −  Pass@1", "20M  −  Pass@16", "50M  −  Pass@1", "50M  −  Pass@16", "200M  −  Pass@1", "200M  −  Pass@16", "680M  −  Pass@1", "680M  −  Pass@16"];
const xDomains: Pt[] = [[16.815, 19.083], [16.82, 19.09], [16.89, 19.25], [16.86, 19.26], [17.52, 20.017], [17.536, 20.012], [18.12, 20.38], [18.12, 20.38]];
const yDomains: Pt[] = [[1.24, 41.36], [16.79, 60.6], [-1.36, 51.67], [4.53, 72.4], [0.39, 66.4], [13.35, 84.5], [5.57, 70.6], [33.5, 82.7]];
const yTicks = [[10, 20, 30, 40], [20, 30, 40, 50, 60], [0, 10, 20, 30, 40, 50], [20, 40, 60], [0, 20, 40, 60], [20, 40, 60, 80], [20, 40, 60], [40, 50, 60, 70, 80]];
const colorbarRange: Pt = [16.83, 20.28];
const colorbarTicks = [17, 18, 19, 20];
const legendLabels = ["RL trajectory", "Step 0 (pretrain+SFT)", "Frontier", "RL Compute Ratio"];

const panels = [
  { runs: runs20M1, frontier: frontier20M1, ratios: ratios20M1, pass1: true },
  { runs: runs20M16, frontier: frontier20M16, ratios: [] as Ratio[], pass1: false },
  { runs: runs50M1, frontier: frontier50M1, ratios: ratios50M1, pass1: true },
  { runs: runs50M16, frontier: frontier50M16, ratios: [] as Ratio[], pass1: false },
  { runs: runs200M1, frontier: frontier200M1, ratios: ratios200M1, pass1: true },
  { runs: runs200M16, frontier: frontier200M16, ratios: [] as Ratio[], pass1: false },
  { runs: runs680M1, frontier: frontier680M1, ratios: ratios680M1, pass1: true },
  { runs: runs680M16, frontier: frontier680M16, ratios: [] as Ratio[], pass1: false },
];

const W = 997;
const H = 522;
const SERIF = "DejaVu Serif, serif";
const SANS = "DejaVu Sans, sans-serif";
const RATIO_BLUE = "#3a5d8f";
const colCols = [[45, 253], [297, 505], [547, 757], [785, 992]];
const rowSpan = [[22, 190], [246, 414]];
const XLABEL_HALF = 114;

const color = (pre: number) =>
  d3.interpolateInferno((0.85 * (pre - colorbarRange[0])) / (colorbarRange[1] - colorbarRange[0]));

function Exp({ k, size }: { k: number; size: number }) {
  return (
    <>
      10
      <tspan dy={-size * 0.45} fontSize={size * 0.68}>
        {k}
      </tspan>
    </>
  );
}

function Panel({ i }: { i: number }) {
  const p = panels[i];
  const [l, r] = colCols[i % 4];
  const [t, b] = rowSpan[Math.floor(i / 4)];
  const [x0, x1] = xDomains[i];
  const x = d3.scaleLog().domain([10 ** x0, 10 ** x1]).range([l, r]);
  const y = d3.scaleLinear().domain(yDomains[i]).range([b, t]);
  const px = (v: number) => x(10 ** v);
  const line = d3
    .line<Pt>()
    .x((d) => px(d[0]))
    .y((d) => y(d[1]));

  const majors: number[] = [];
  const halves: number[] = [];
  const minors: number[] = [];
  for (let k = Math.floor(x0); k <= Math.ceil(x1); k++) {
    if (k >= x0 && k <= x1) majors.push(k);
    if (k + 0.5 >= x0 && k + 0.5 <= x1) halves.push(k + 0.5);
    for (const m of [2, 4, 5, 6, 7, 8, 9]) {
      const v = k + Math.log10(m);
      if (v >= x0 && v <= x1) minors.push(v);
    }
  }
  const runs = [...p.runs].sort((a, c) => a.pre - c.pre);
  // Pass@1 frontiers are dense, so their markers are drawn a bit heavier
  const mr = p.pass1 ? 2.9 : 2.6;
  const mw = p.pass1 ? 1.3 : 1.0;
  // keep the x label inside the page on the right-most column
  const xlabelX = Math.min((l + r) / 2, W - 2 - XLABEL_HALF);

  return (
    <g>
      {/* grid */}
      {[...majors, ...halves].map((v) => (
        <line key={"gx" + v} x1={px(v)} x2={px(v)} y1={t} y2={b} stroke="#e3e3e3" strokeWidth={1} />
      ))}
      {yTicks[i].map((v) => (
        <line key={"gy" + v} x1={l} x2={r} y1={y(v)} y2={y(v)} stroke="#e3e3e3" strokeWidth={1} />
      ))}

      {/* RL trajectories */}
      {runs.map((run, j) => (
        <path
          key={"tl" + j}
          d={line(run.pts) ?? ""}
          fill="none"
          stroke={color(run.pre)}
          strokeOpacity={0.32}
          strokeWidth={p.pass1 ? 4.5 : 5}
          strokeLinejoin="round"
          strokeLinecap="round"
        />
      ))}
      {runs.map((run, j) =>
        run.pts.slice(1).map((d, k) => (
          <circle key={"td" + j + "-" + k} cx={px(d[0])} cy={y(d[1])} r={1.35} fill={color(run.pre)} />
        ))
      )}
      {/* step-0 markers */}
      {runs.map((run, j) => (
        <circle
          key={"s0" + j}
          cx={px(run.pts[0][0])}
          cy={y(run.pts[0][1])}
          r={4.6}
          fill="white"
          stroke={color(run.pre)}
          strokeWidth={1.7}
        />
      ))}

      {/* frontier */}
      <path
        d={line(p.frontier.map((d) => [d[0], d[1]] as Pt)) ?? ""}
        fill="none"
        stroke="#111"
        strokeWidth={1.2}
        strokeDasharray="4 2.5"
      />
      {p.frontier.map((d, k) => (
        <circle key={"f" + k} cx={px(d[0])} cy={y(d[1])} r={mr} fill={color(d[2])} stroke="#000" strokeWidth={mw} />
      ))}

      {/* RL compute ratio annotations */}
      {p.ratios.map((a, k) => (
        <g key={"a" + k}>
          <line x1={px(a.tx)} y1={y(a.ty) + 6} x2={px(a.x)} y2={y(a.y) - 2} stroke="#9fb2c8" strokeWidth={1} />
          <text
            x={px(a.tx)}
            y={y(a.ty)}
            dy="0.1em"
            textAnchor="middle"
            fontFamily={SERIF}
            fontWeight="bold"
            fontSize={11}
            fill={RATIO_BLUE}
          >
            {a.label}
          </text>
        </g>
      ))}

      {/* axes */}
      <line x1={l} x2={r} y1={b} y2={b} stroke="#000" strokeWidth={1.3} />
      <line x1={l} x2={l} y1={t} y2={b} stroke="#000" strokeWidth={1.3} />
      {[...majors, ...halves].map((v) => (
        <line key={"xt" + v} x1={px(v)} x2={px(v)} y1={b} y2={b + 5} stroke="#000" strokeWidth={1} />
      ))}
      {minors.map((v) => (
        <line key={"xm" + v} x1={px(v)} x2={px(v)} y1={b} y2={b + 2.5} stroke="#000" strokeWidth={0.8} />
      ))}
      {majors.map((v) => (
        <text key={"xl" + v} x={px(v)} y={b + 16} textAnchor="middle" fontFamily={SERIF} fontSize={13}>
          <Exp k={v} size={13} />
        </text>
      ))}
      {yTicks[i].map((v) => (
        <g key={"yt" + v}>
          <line x1={l - 4} x2={l} y1={y(v)} y2={y(v)} stroke="#000" strokeWidth={1} />
          <text x={l - 7} y={y(v)} dy="0.36em" textAnchor="end" fontFamily={SERIF} fontSize={13}>
            {v}
          </text>
        </g>
      ))}
      <text x={xlabelX} y={b + 30} textAnchor="middle" fontFamily={SERIF} fontSize={13.3}>
        Total Compute (Log-scale FLOPs)
      </text>
      <text
        x={(l + r) / 2}
        y={t - 5}
        textAnchor="middle"
        fontFamily={SANS}
        fontWeight="bold"
        fontSize={15}
        style={{ whiteSpace: "pre" }}
      >
        {titles[i]}
      </text>
      {i % 4 === 0 && (
        <text
          transform={`translate(${l - 33},${(t + b) / 2}) rotate(-90)`}
          textAnchor="middle"
          fontFamily={SERIF}
          fontSize={14}
        >
          Pass@k (%)
        </text>
      )}
    </g>
  );
}

function Colorbar() {
  const [c0, c1] = colorbarRange;
  const cx = d3.scaleLog().domain([10 ** c0, 10 ** c1]).range([279, 757]);
  const top = 459;
  const h = 11;
  const stops = d3.range(0, 1.0001, 0.05);
  const minors: number[] = [];
  for (let k = Math.floor(c0); k <= Math.ceil(c1); k++) {
    for (const m of [2, 3, 4, 5, 6, 7, 8, 9]) {
      const v = k + Math.log10(m);
      if (v > c0 && v < c1) minors.push(v);
    }
  }
  return (
    <g>
      <defs>
        <linearGradient id="cbar" x1="0" x2="1" y1="0" y2="0">
          {stops.map((s) => (
            <stop key={s} offset={s} stopColor={d3.interpolateInferno(0.85 * s)} />
          ))}
        </linearGradient>
      </defs>
      <rect x={279} y={top} width={478} height={h} fill="url(#cbar)" stroke="#000" strokeWidth={1} />
      {colorbarTicks.map((k) => (
        <g key={k}>
          <line x1={cx(10 ** k)} x2={cx(10 ** k)} y1={top + h} y2={top + h + 4} stroke="#000" />
          <text x={cx(10 ** k)} y={top + h + 16} textAnchor="middle" fontFamily={SERIF} fontSize={11.5}>
            <Exp k={k} size={11.5} />
          </text>
        </g>
      ))}
      {minors.map((v) => (
        <line key={v} x1={cx(10 ** v)} x2={cx(10 ** v)} y1={top + h} y2={top + h + 2} stroke="#000" strokeWidth={0.8} />
      ))}
      <text x={763} y={top + h / 2} dy="0.36em" fontFamily={SERIF} fontSize={12}>
        Pretraining Compute (FLOPs)
      </text>
    </g>
  );
}

function Legend() {
  const cy = 504;
  return (
    <g fontFamily={SERIF} fontSize={12}>
      <rect x={174} y={491} width={648} height={26} rx={3} fill="white" stroke="#cccccc" strokeWidth={1} />
      <line x1={180} x2={209} y1={cy} y2={cy} stroke="#808080" strokeWidth={1.8} />
      <text x={216} y={cy} dy="0.36em">{legendLabels[0]}</text>
      <circle cx={346} cy={cy} r={4} fill="none" stroke="#888" strokeWidth={1.3} />
      <text x={368} y={cy} dy="0.36em">{legendLabels[1]}</text>
      <line x1={543} x2={571} y1={cy} y2={cy} stroke="#111" strokeWidth={1.3} strokeDasharray="4 2.5" />
      <circle cx={557} cy={cy} r={2.6} fill="#888" stroke="#000" strokeWidth={0.8} />
      <text x={579} y={cy} dy="0.36em">{legendLabels[2]}</text>
      <text x={675} y={cy} dy="0.36em" textAnchor="middle" fontFamily={SANS} fontWeight="bold" fill={RATIO_BLUE}>
        %
      </text>
      <text x={698} y={cy} dy="0.36em">{legendLabels[3]}</text>
    </g>
  );
}

export default function App() {
  return (
    <svg
      width={W}
      height={H}
      viewBox={`0 0 ${W} ${H}`}
      style={{ position: "absolute", left: 0, top: 0, background: "white" }}
    >
      <rect width={W} height={H} fill="white" />
      {panels.map((_, i) => (
        <Panel key={i} i={i} />
      ))}
      <Colorbar />
      <Legend />
    </svg>
  );
}
